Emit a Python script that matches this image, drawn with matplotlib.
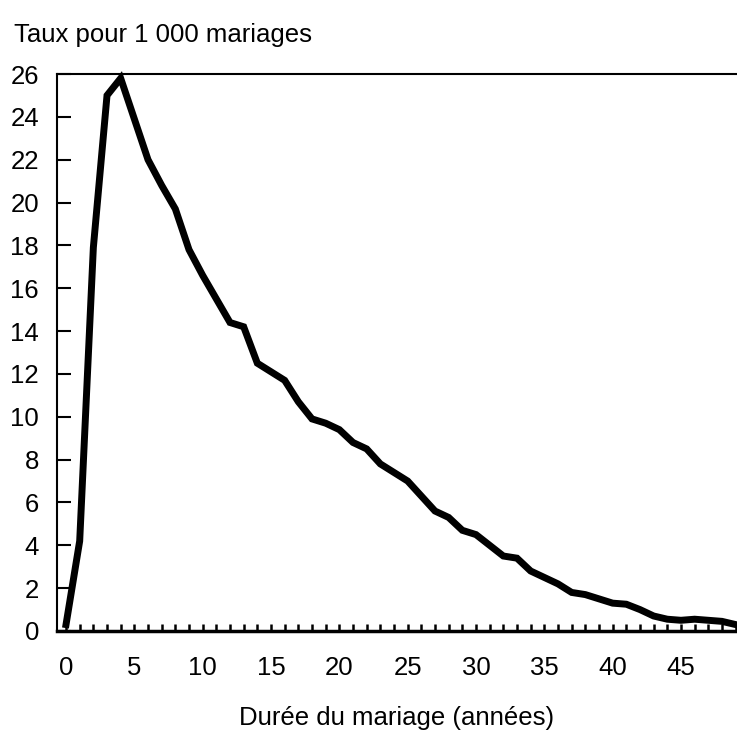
import matplotlib
matplotlib.use("Agg")
import matplotlib.pyplot as plt
import numpy as np

plt.rcParams['font.family'] = ['Liberation Sans', 'DejaVu Sans']

years = list(range(0, 50))
rates = [0.3, 4.2, 17.9, 25.0, 25.8, 23.9, 22.0, 20.8, 19.7, 17.8,
         16.6, 15.5, 14.4, 14.2, 12.5, 12.1, 11.7, 10.7, 9.9, 9.7,
         9.4, 8.8, 8.5, 7.8, 7.4, 7.0, 6.3, 5.6, 5.3, 4.7,
         4.5, 4.0, 3.5, 3.4, 2.8, 2.5, 2.2, 1.8, 1.7, 1.5,
         1.3, 1.25, 1.0, 0.7, 0.55, 0.5, 0.55, 0.5, 0.45, 0.3]
ytick_vals = list(range(0, 27, 2))
xtick_vals = list(range(0, 50, 5))

title = "Taux pour 1 000 mariages"
xlabel = "Durée du mariage (années)"

fig = plt.figure(figsize=(7.37, 7.36), dpi=100)
ax = fig.add_axes([57/737, 1 - 631/736, 1 - 57/737, (631 - 74)/736])

ax.plot(years, rates, color='black', lw=5, solid_joinstyle='miter', clip_on=False, zorder=3)

ax.set_xlim(-0.66, 49.1)
ax.set_ylim(0, 26)

ax.set_yticks(ytick_vals)
ax.set_xticks(xtick_vals)
ax.set_xticks(years, minor=True)
ax.tick_params(axis='y', direction='in', length=10, width=1.5, pad=13, labelsize=18.5)
ax.tick_params(axis='x', which='major', direction='in', length=5, width=1.8, pad=18, labelsize=18.5)
ax.tick_params(axis='x', which='minor', direction='in', length=5, width=1.8)

for s in ['left', 'bottom', 'top']:
    ax.spines[s].set_linewidth(1.5)
ax.spines['bottom'].set_linewidth(2.5)
ax.spines['right'].set_visible(False)

ax.set_xlabel(xlabel, fontsize=18.5, labelpad=19)
fig.text(14/737, 1 - 35/736, title, fontsize=18.5, ha='left', va='center')

fig.savefig("out.png", dpi=100)
